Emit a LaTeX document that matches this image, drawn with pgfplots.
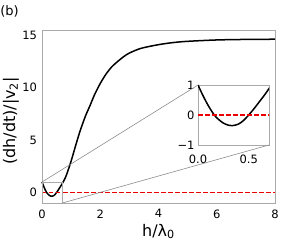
\documentclass[border=0pt]{standalone}
\usepackage{pgfplots}
\pgfplotsset{compat=1.18}
\usepackage{fontspec}
\setmainfont{DejaVu Sans}
\definecolor{framegray}{RGB}{170,170,170}
\definecolor{linegray}{RGB}{140,140,140}
\definecolor{dashred}{RGB}{235,0,0}
\begin{document}
\begin{tikzpicture}[x=1pt,y=1pt]
\useasboundingbox (0,0) rectangle (284,245);
\pgfplotstableread{
x y
0.00 1.00
0.05 0.64
0.10 0.32
0.16 0.00
0.20 -0.14
0.25 -0.27
0.30 -0.34
0.35 -0.35
0.40 -0.30
0.45 -0.18
0.50 0.00
0.55 0.20
0.60 0.42
0.65 0.64
0.70 0.88
0.80 1.40
0.90 2.15
1.00 3.00
1.10 3.95
1.20 4.90
1.30 5.80
1.40 6.60
1.50 7.35
1.65 8.30
1.80 9.30
2.00 10.40
2.20 11.30
2.40 12.00
2.60 12.50
2.80 12.95
3.00 13.30
3.40 13.75
4.00 14.10
4.50 14.30
5.00 14.42
6.00 14.55
7.00 14.60
8.00 14.62
}\curve
\pgfplotstableread{
x y
0 0
8 0
}\zeroline
\node[anchor=center,font=\fontsize{13}{15}\selectfont] at (9.5,234) {(b)};
\begin{axis}[
  name=main,
  at={(42pt,42pt)}, anchor=south west,
  scale only axis, width=233pt, height=173pt,
  xmin=0, xmax=8, ymin=-1, ymax=15.5,
  xtick={0,2,4,6,8}, ytick={0,5,10,15},
  major tick length=0pt,
  axis line style={framegray, line width=0.8pt},
  /pgf/number format/assume math mode=true,
  tick label style={font=\fontsize{11.5}{13}\selectfont},
  xticklabel style={yshift=-3pt},
  yticklabel style={xshift=-1.5pt},
  xlabel={h/λ\textsubscript{0}},
  ylabel={(dh/dt)/|v\textsubscript{2}|},
  label style={font=\fontsize{16}{18}\selectfont},
  xlabel style={anchor=center, at={(axis description cs:0.5,-0.165)}},
  ylabel style={anchor=center, at={(axis description cs:-0.133,0.474)}},
  clip=false,
]
\addplot[black, line width=1.5pt, smooth] table {\curve};
\addplot[color=dashred, line width=1.1pt, dash pattern=on 4.5pt off 2.5pt] table {\zeroline};
\draw[framegray, line width=0.7pt] (axis cs:0,-1) rectangle (axis cs:0.7,1);
\coordinate (zTL) at (axis cs:0,1);
\coordinate (zBR) at (axis cs:0.7,-1);
\end{axis}
\begin{axis}[
  name=inset,
  at={(198pt,100pt)}, anchor=south west,
  scale only axis, width=71pt, height=60pt,
  xmin=0, xmax=0.7, ymin=-1, ymax=1,
  xtick={0,0.5}, xticklabels={0.0,0.5},
  ytick={-1,0,1}, yticklabels={−1,0,1},
  major tick length=0pt,
  axis line style={framegray, line width=0.8pt},
  /pgf/number format/assume math mode=true,
  tick label style={font=\fontsize{11.5}{13}\selectfont},
  xticklabel style={yshift=-6pt},
  clip=true,
]
\addplot[black, line width=1.5pt, smooth] table {\curve};
\addplot[color=dashred, line width=1.3pt, dash pattern=on 4.5pt off 2.5pt] table {\zeroline};
\end{axis}
\draw[linegray, line width=0.6pt] (zTL) -- (inset.north west);
\draw[linegray, line width=0.6pt] (zBR) -- (inset.south east);
\end{tikzpicture}
\end{document}
